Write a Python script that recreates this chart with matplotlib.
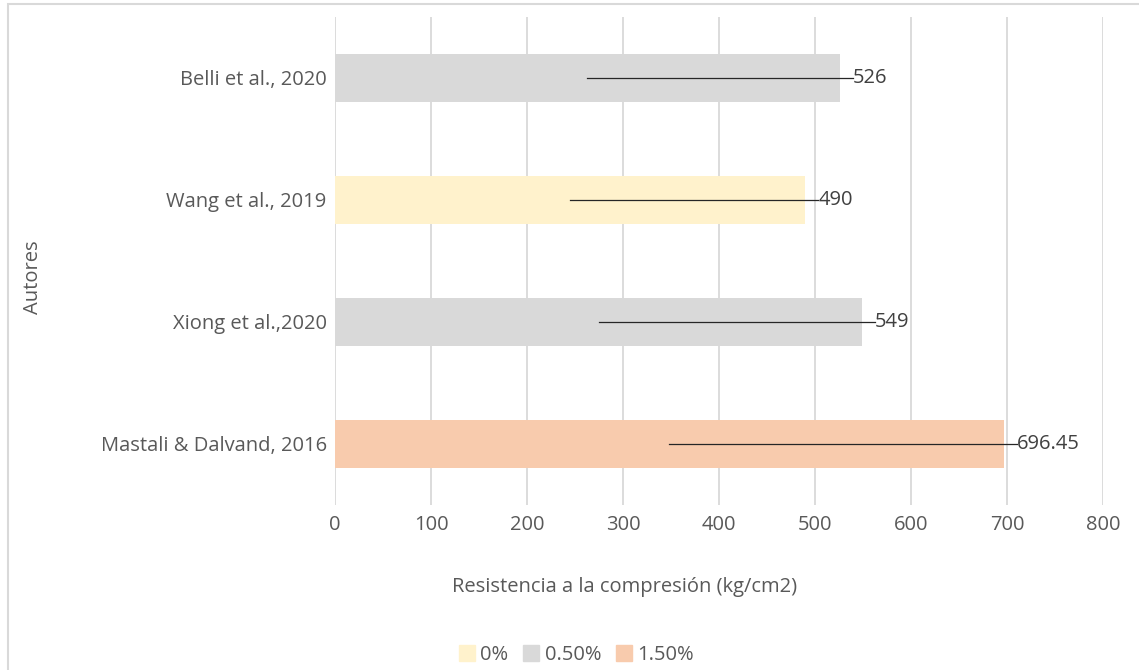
import matplotlib.pyplot as plt
from matplotlib.patches import Rectangle
from matplotlib.lines import Line2D

# data (bottom to top)
autores = ["Mastali & Dalvand, 2016", "Xiong et al.,2020", "Wang et al., 2019", "Belli et al., 2020"]
resistencia = [696.45, 549, 490, 526]
porcentaje = ["1.50%", "0.50%", "0%", "0.50%"]
series = ["0%", "0.50%", "1.50%"]
series_colors = {"0%": "#FFF2CC", "0.50%": "#D9D9D9", "1.50%": "#F8CBAD"}
xticks = [0, 100, 200, 300, 400, 500, 600, 700, 800]

plt.rcParams['font.family'] = ['Open Sans', 'DejaVu Sans']
txt = "#595959"
fs = 14.5

fig = plt.figure(figsize=(11.39, 6.70), dpi=100)
W, H = 1139, 670
ax = fig.add_axes([335 / W, 1 - 505 / H, (1103 - 335) / W, (505 - 17) / H])

pos = list(range(len(autores)))
colors = [series_colors[p] for p in porcentaje]
ax.barh(pos, resistencia, height=0.4, color=colors, zorder=2)

# data labels with leader lines from bar centre
off = 13.5
for i, v in zip(pos, resistencia):
    ax.plot([v / 2, v + off], [i, i], color="#262626", lw=0.9, zorder=3)
    ax.text(v + off, i, f"{v:g}", va="center", ha="left", fontsize=fs, color="#404040")

ax.set_xlim(0, 800)
ax.set_ylim(-0.5, len(autores) - 0.5)
ax.set_xticks(xticks)
ax.set_yticks(pos)
ax.set_yticklabels(autores)
ax.tick_params(axis='both', length=0, labelsize=fs, labelcolor=txt)
ax.tick_params(axis='x', pad=7)
ax.tick_params(axis='y', pad=6)
ax.grid(axis='x', color="#D9D9D9", lw=1.3, zorder=0)
for s in ax.spines.values():
    s.set_visible(False)

fig.text(625 / W, 1 - 587 / H, "Resistencia a la compresión (kg/cm2)",
         ha="center", va="center", fontsize=fs, color=txt)
fig.text(33 / W, 1 - 277 / H, "Autores", ha="center", va="center",
         rotation=90, fontsize=fs, color=txt)

handles = [Line2D([], [], ls="none", marker="s", markersize=11,
                  markerfacecolor=series_colors[s], markeredgecolor=series_colors[s])
           for s in series]
fig.legend(handles, series, loc="center", bbox_to_anchor=(575 / W, 1 - 655 / H),
           ncol=3, frameon=False, fontsize=fs, labelcolor=txt,
           handletextpad=0.1, columnspacing=0.6, handlelength=1.1)

# chart frame
fig.patches.append(Rectangle((8 / W, -0.1), 1.2, 1 - 4 / H + 0.1, transform=fig.transFigure,
                             fill=False, ec="#D9D9D9", lw=1.5))

fig.savefig("out.png", dpi=100)
